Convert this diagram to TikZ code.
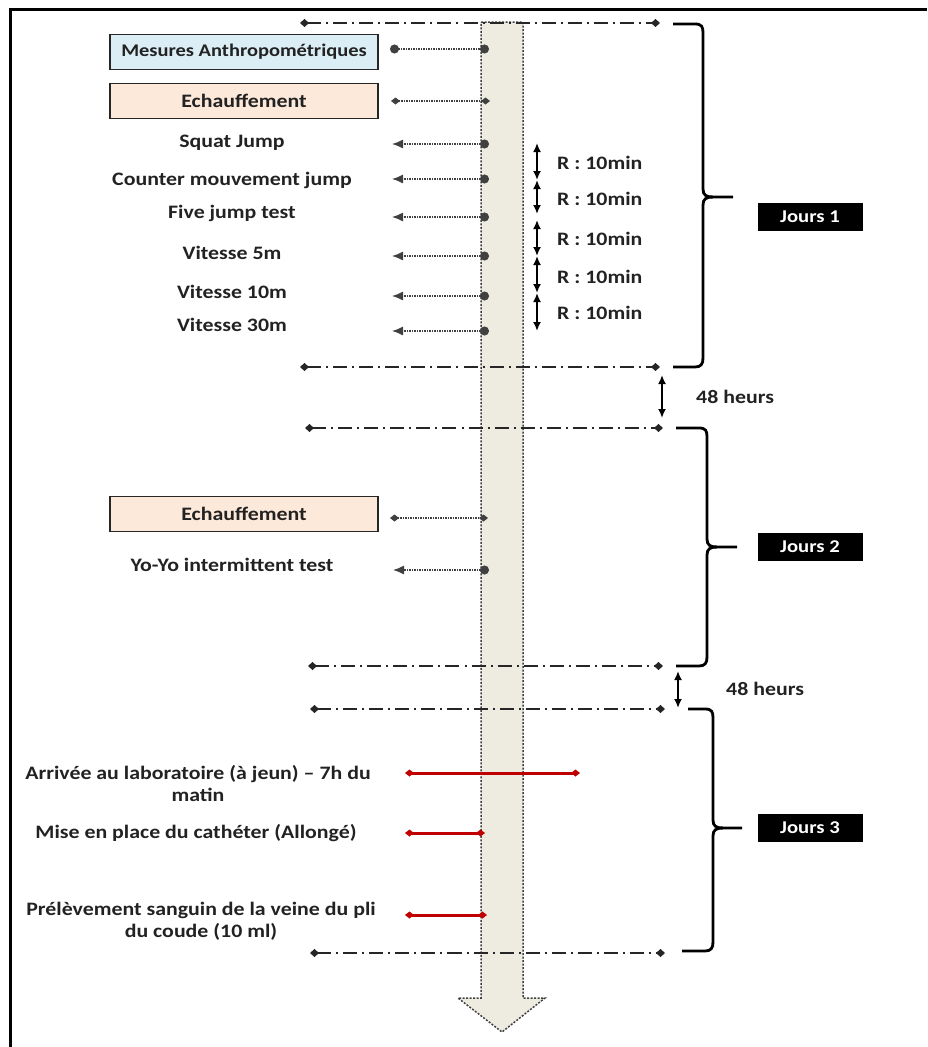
\documentclass[tikz,border=0pt]{standalone}
\usepackage{fontspec}
\setmainfont{Carlito}[FakeStretch=1.15]
\usetikzlibrary{arrows.meta}
\definecolor{barfill}{HTML}{EEECE1}
\definecolor{bluefill}{HTML}{DCEEF5}
\definecolor{peach}{HTML}{FCE9DA}
\definecolor{redline}{HTML}{C00000}
\definecolor{txt}{HTML}{222222}
\tikzset{
  lbl/.style={font=\fontsize{19}{22}\selectfont\bfseries, text=txt, align=center, inner sep=0pt},
  itembox/.style={lbl, draw=black!85, line width=1.6pt, minimum width=268pt, minimum height=35pt},
  jour/.style={fill=black, text=white, font=\fontsize{18}{20}\selectfont\bfseries, minimum width=105pt, minimum height=28pt, inner sep=0pt},
  dotend/.tip={Circle[length=9pt,width=9pt]},
  arrend/.tip={Latex[length=11pt,width=9pt]},
  diaend/.tip={Diamond[length=9pt,width=7pt]},
  ddline/.style={line width=2pt, black!85, dash pattern=on 14pt off 5pt on 2pt off 5pt, {Diamond[length=9pt,width=8pt]}-{Diamond[length=9pt,width=8pt]}},
  conn/.style={line width=1.3pt, black!75, dash pattern=on 1.5pt off 1pt},
  brace/.style={line width=2.8pt, black},
  rarrow/.style={line width=1.8pt, black, {Latex[length=9pt,width=8pt]}-{Latex[length=9pt,width=8pt]}},
  redconn/.style={line width=3pt, redline, {Diamond[length=9pt,width=7pt]}-{Diamond[length=9pt,width=7pt]}},
}
\begin{document}
\begin{tikzpicture}[x=1pt,y=-1pt]
\useasboundingbox (0,0) rectangle (927,1047);
% frame
\draw[line width=3pt] (10,1047) -- (10,9) -- (927,9);
% time bar (arrow)
\path[fill=barfill, draw=black!75, line width=1.5pt, dash pattern=on 2pt off 1.5pt]
  (481,22) -- (523,22) -- (523,998) -- (545,998) -- (502,1032) -- (458,998) -- (481,998) -- cycle;
% day separators
\coordinate (a1) at (300,23);  \coordinate (b1) at (660,23);
\coordinate (a2) at (300,367); \coordinate (b2) at (660,367);
\coordinate (a3) at (305,428); \coordinate (b3) at (663,428);
\coordinate (a4) at (308,666); \coordinate (b4) at (663,666);
\coordinate (a5) at (310,709); \coordinate (b5) at (665,709);
\coordinate (a6) at (310,953); \coordinate (b6) at (665,953);
\foreach \i in {1,...,6} { \draw[ddline] (a\i) -- (b\i); }
% braces
\draw[brace] (673,24) -- (695,24) .. controls (702,24) and (703,27) .. (703,33) -- (703,189)
  .. controls (703,195) and (706,197) .. (713,197) -- (733,197);
\draw[brace] (713,197) .. controls (706,197) and (703,199) .. (703,205) -- (703,358)
  .. controls (703,364) and (701,367) .. (695,367) -- (673,367);
\draw[brace] (676,428) -- (699,428) .. controls (706,428) and (707,431) .. (707,437) -- (707,539)
  .. controls (707,545) and (710,547) .. (717,547) -- (737,547);
\draw[brace] (717,547) .. controls (710,547) and (707,549) .. (707,555) -- (707,657)
  .. controls (707,663) and (705,666) .. (699,666) -- (676,666);
\draw[brace] (688,709) -- (705,709) .. controls (712,709) and (713,712) .. (713,718) -- (713,820)
  .. controls (713,826) and (716,828) .. (723,828) -- (742,828);
\draw[brace] (723,828) .. controls (716,828) and (713,830) .. (713,836) -- (713,942)
  .. controls (713,948) and (711,951) .. (705,951) -- (682,951);
% day labels
\node[jour] (j1) at (810,217) {Jours 1};
\node[jour] (j2) at (810,547) {Jours 2};
\node[jour] (j3) at (810,828) {Jours 3};
% 48 h gaps
\coordinate (g1t) at (662,375); \coordinate (g1b) at (662,418);
\draw[rarrow] (g1t) -- (g1b);
\node[lbl, anchor=west] (h1) at (696,397) {48 heurs};
\coordinate (g2t) at (678,671); \coordinate (g2b) at (678,708);
\draw[rarrow] (g2t) -- (g2b);
\node[lbl, anchor=west] (h2) at (726,689) {48 heurs};
% Day 1
\node[itembox, fill=bluefill, font=\fontsize{17.8}{21}\selectfont\bfseries] (mes) at (244,52) {Mesures Anthropométriques};
\node[itembox, fill=peach] (ech1) at (244,101) {Echauffement};
\coordinate (mesL) at (390,49); \coordinate (mesR) at (489,49);
\draw[conn, {dotend}-{dotend}] (mesL) -- (mesR);
\coordinate (ech1L) at (391,101); \coordinate (ech1R) at (490,101);
\draw[conn, {diaend}-{diaend}] (ech1L) -- (ech1R);
\foreach \n/\t/\yt/\ya in {sj/Squat Jump/143/144, cmj/Counter mouvement jump/180/179,
   fjt/Five jump test/213/217, v5/Vitesse 5m/253/256, v10/Vitesse 10m/292/296, v30/Vitesse 30m/325/331} {
  \node[lbl] (\n) at (232,\yt) {\t};
  \coordinate (\n L) at (392,\ya); \coordinate (\n R) at (489,\ya);
  \draw[conn, {dotend}-{arrend}] (\n R) -- (\n L);
}
% rest intervals
\coordinate (r0) at (537,143); \coordinate (r1) at (537,180); \coordinate (r2) at (537,214);
\coordinate (r2b) at (537,220); \coordinate (r3) at (537,256); \coordinate (r4) at (537,293);
\coordinate (r5) at (537,331);
\draw[rarrow] (r0) -- (r1); \draw[rarrow] (r1) -- (r2);
\draw[rarrow] (r2b) -- (r3); \draw[rarrow] (r3) -- (r4); \draw[rarrow] (r4) -- (r5);
\foreach \i/\y in {1/163, 2/199, 3/239, 4/277, 5/313} {
  \node[lbl, anchor=west] (rl\i) at (557,\y) {R : 10min};
}
% Day 2
\node[itembox, fill=peach] (ech2) at (244,514) {Echauffement};
\coordinate (ech2L) at (390,518); \coordinate (ech2R) at (488,518);
\draw[conn, {diaend}-{diaend}] (ech2L) -- (ech2R);
\node[lbl] (yoyo) at (232,565) {Yo-Yo intermittent test};
\coordinate (yoL) at (393,570); \coordinate (yoR) at (489,570);
\draw[conn, {dotend}-{arrend}] (yoR) -- (yoL);
% Day 3
\node[lbl] (arr) at (198,784) {Arrivée au laboratoire (à jeun) – 7h du\\matin};
\coordinate (arrL) at (405,773); \coordinate (arrR) at (580,773);
\draw[redconn] (arrL) -- (arrR);
\node[lbl] (mise) at (196,833) {Mise en place du cathéter (Allongé)};
\coordinate (miseL) at (405,833); \coordinate (miseR) at (485,833);
\draw[redconn] (miseL) -- (miseR);
\node[lbl] (prel) at (201,921) {Prélèvement sanguin de la veine du pli\\du coude (10 ml)};
\coordinate (prelL) at (405,915); \coordinate (prelR) at (487,915);
\draw[redconn] (prelL) -- (prelR);
\end{tikzpicture}
\end{document}
